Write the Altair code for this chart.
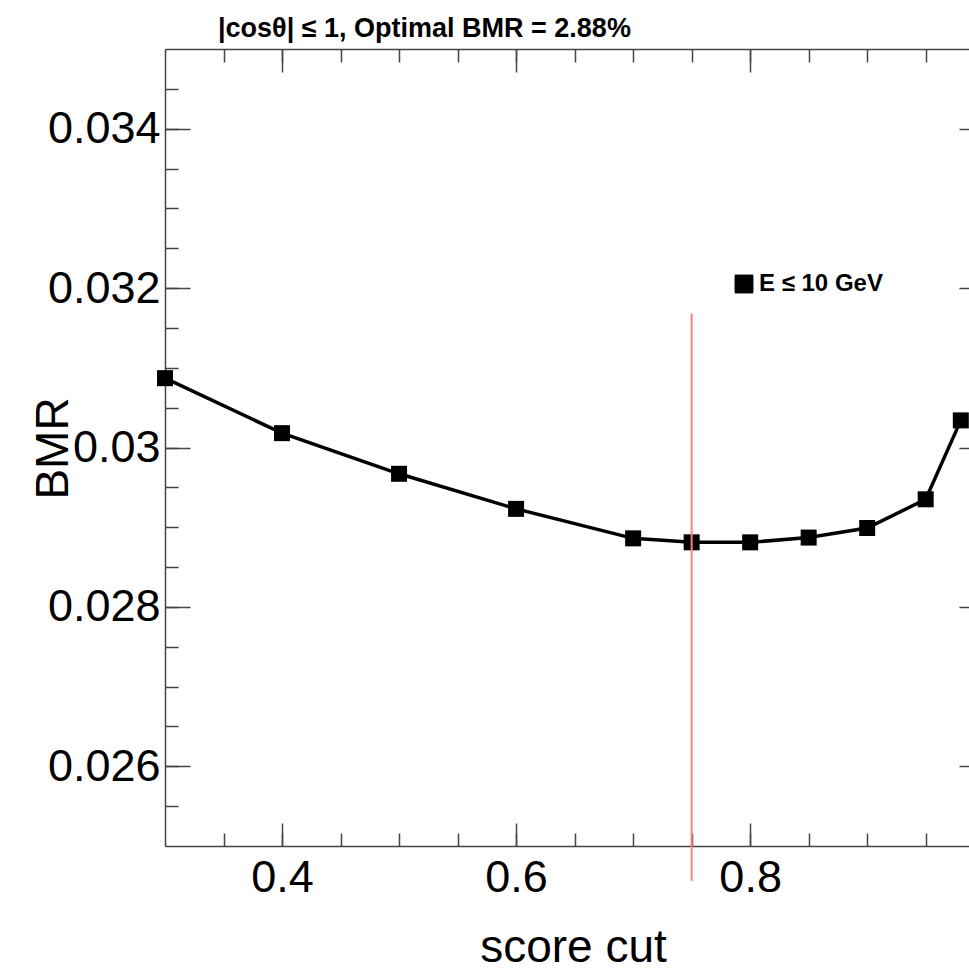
import altair as alt
import pandas as pd

# ---- data ----
score_cut = [0.3, 0.4, 0.5, 0.6, 0.7, 0.75, 0.8, 0.85, 0.9, 0.95, 0.98]
bmr = [0.03087, 0.03018, 0.02967, 0.02923, 0.02886, 0.02881, 0.02881, 0.02887, 0.02899, 0.02935, 0.03034]
series_label = "E \u2264 10 GeV"

opt_cut = [0.75]
opt_lo = [0.02456]
opt_hi = [0.03168]

x_major = [0.4, 0.6, 0.8]
x_minor = [0.35, 0.4, 0.45, 0.5, 0.55, 0.6, 0.65, 0.7, 0.75, 0.8, 0.85, 0.9, 0.95]
y_major = [0.026, 0.028, 0.030, 0.032, 0.034]
y_minor = [0.0255, 0.026, 0.0265, 0.027, 0.0275, 0.028, 0.0285, 0.029, 0.0295, 0.030,
           0.0305, 0.031, 0.0315, 0.032, 0.0325, 0.033, 0.0335, 0.034, 0.0345]

title_text = "|cos\u03b8| \u2264 1, Optimal BMR = 2.88%"

df = pd.DataFrame({"cut": score_cut, "bmr": bmr, "series": [series_label] * len(score_cut)})
vline = pd.DataFrame({"cut": opt_cut, "lo": opt_lo, "hi": opt_hi})

FONT = "Liberation Sans"
AX = "#444444"

xs = alt.Scale(domain=[0.3, 0.987], nice=False, zero=False)
ys = alt.Scale(domain=[0.025, 0.035], nice=False, zero=False)

def ax(**kw):
    base = dict(grid=False, domain=False, labels=False, title=None,
                tickColor=AX, tickWidth=1.5)
    base.update(kw)
    return alt.Axis(**base)

# axes
x_bottom_major = ax(orient="bottom", values=x_major, tickSize=23, offset=-23,
                    labels=True, labelFont=FONT, labelFontSize=45, labelColor="black",
                    labelPadding=9, format=".1f")
x_bottom_minor = ax(orient="bottom", values=x_minor, tickSize=13, offset=-13)
x_bottom_dom = ax(orient="bottom", ticks=False, domain=True, domainColor=AX, domainWidth=1.5,
                  title="score cut", titleFont=FONT, titleFontSize=46, titleFontWeight="normal",
                  titleColor="black", titleX=408, titleY=115, titleBaseline="alphabetic",
                  titleAlign="center")
x_top_major = ax(orient="top", values=x_major, tickSize=23, offset=-23)
x_top_minor = ax(orient="top", values=x_minor, tickSize=13, offset=-13)
x_top_dom = ax(orient="top", ticks=False, domain=True, domainColor=AX, domainWidth=1.5)

y_left_major = ax(orient="left", values=y_major, tickSize=25, offset=-25,
                  labels=True, labelFont=FONT, labelFontSize=45, labelColor="black",
                  labelPadding=5, format="~g")
y_left_minor = ax(orient="left", values=y_minor, tickSize=13, offset=-13)
y_left_dom = ax(orient="left", ticks=False, domain=True, domainColor=AX, domainWidth=1.5,
                title="BMR", titleFont=FONT, titleFontSize=46, titleFontWeight="normal",
                titleColor="black", titleAngle=270, titleX=-98, titleY=399,
                titleBaseline="alphabetic", titleAlign="center")
y_right_major = ax(orient="right", values=y_major, tickSize=10, offset=-10)

base = alt.Chart(df)

line = base.mark_line(color="black", strokeWidth=3.5).encode(
    x=alt.X("cut:Q", scale=xs, axis=x_bottom_major),
    y=alt.Y("bmr:Q", scale=ys, axis=y_left_major),
)

pts = base.mark_square(size=256, opacity=1, filled=True).encode(
    x=alt.X("cut:Q", scale=xs, axis=x_bottom_minor),
    y=alt.Y("bmr:Q", scale=ys, axis=y_left_minor),
    color=alt.Color("series:N", scale=alt.Scale(range=["black"]),
                    legend=alt.Legend(orient="none", legendX=567, legendY=223, title=None,
                                      labelFont=FONT, labelFontSize=24, labelFontWeight="bold",
                                      labelColor="black", symbolType="square", symbolSize=320,
                                      symbolFillColor="black", symbolStrokeColor="black",
                                      symbolStrokeWidth=1, labelOffset=3, padding=0)),
)

rule = alt.Chart(vline).mark_rule(color="#ff7f7f", strokeWidth=2, clip=False).encode(
    x=alt.X("cut:Q", scale=xs, axis=x_bottom_dom),
    y=alt.Y("lo:Q", scale=ys, axis=y_left_dom),
    y2="hi:Q",
)

inv1 = base.mark_point(opacity=0).encode(
    x=alt.X("cut:Q", scale=xs, axis=x_top_major),
    y=alt.Y("bmr:Q", scale=ys, axis=y_right_major),
)
inv2 = base.mark_point(opacity=0).encode(
    x=alt.X("cut:Q", scale=xs, axis=x_top_minor),
    y=alt.Y("bmr:Q", scale=ys, axis=None),
)
inv3 = base.mark_point(opacity=0).encode(
    x=alt.X("cut:Q", scale=xs, axis=x_top_dom),
    y=alt.Y("bmr:Q", scale=ys, axis=None),
)

chart = alt.layer(line, pts, rule, inv1, inv2, inv3).resolve_axis(
    x="independent", y="independent"
).resolve_scale(x="shared", y="shared").properties(
    width=804, height=797,
    autosize=alt.AutoSizeParams(type="none"),
    padding={"left": 165, "top": 49, "right": 0, "bottom": 126},
    title=alt.TitleParams(title_text, anchor="start", frame="group", dx=53, dy=29, offset=13,
                          font=FONT, fontSize=27, fontWeight="bold", color="black",
                          baseline="alphabetic"),
).configure_view(stroke=None).configure(background="white", font=FONT)

chart.save("out.html", embed_options={"renderer": "svg", "actions": False})
